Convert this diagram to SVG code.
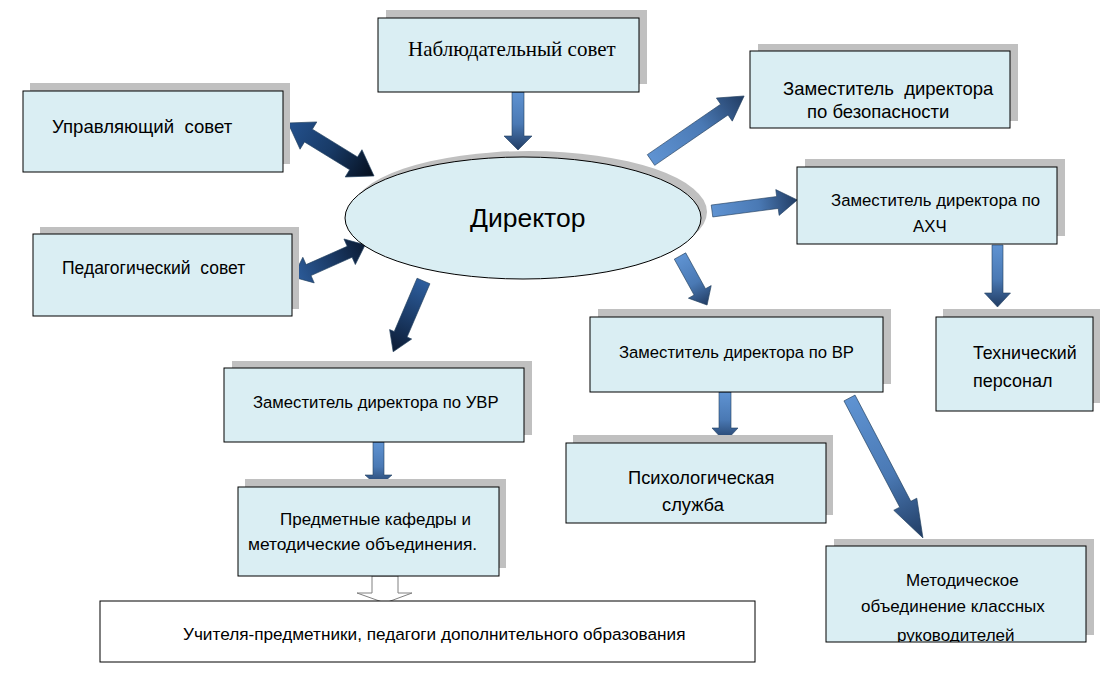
<svg xmlns="http://www.w3.org/2000/svg" width="1120" height="676" viewBox="0 0 1120 676">
<style>
.box{fill:#daeef3;stroke:#000;stroke-width:1}
.sh{fill:#c0c0c0}
.t{font-family:"Liberation Sans",Arial,sans-serif;fill:#000}
.ts{font-family:"Liberation Serif","Times New Roman",serif;fill:#000}
.al{stroke:#23405f;stroke-width:0.6}
</style>
<defs>
<linearGradient id="gL" x1="0" y1="0" x2="1" y2="0">
<stop offset="0" stop-color="#5f93d2"/><stop offset="0.55" stop-color="#4a79b4"/><stop offset="1" stop-color="#213c63"/>
</linearGradient>
<linearGradient id="gD" x1="0" y1="0" x2="1" y2="0">
<stop offset="0" stop-color="#2d5e9e"/><stop offset="1" stop-color="#0b1b34"/>
</linearGradient>
<linearGradient id="gDD" x1="0" y1="0" x2="1" y2="0">
<stop offset="0" stop-color="#24528f"/><stop offset="0.5" stop-color="#183a66"/><stop offset="1" stop-color="#050e1c"/>
</linearGradient>
<clipPath id="cm"><rect x="826" y="546" width="260" height="96"/></clipPath>
</defs>

<g id="connectors">
<path class="al" fill="url(#gL)" transform="translate(518,92) rotate(90)" d="M0,-6 L44,-6 L44,-14 L58,0 L44,14 L44,6 L0,6 Z"/>
<path class="al" fill="url(#gL)" transform="translate(378.5,442) rotate(90)" d="M0,-5.5 L33,-5.5 L33,-13.5 L45,0 L33,13.5 L33,5.5 L0,5.5 Z"/>
<path class="al" fill="url(#gL)" transform="translate(725,392) rotate(90)" d="M0,-6 L36,-6 L36,-13 L50,0 L36,13 L36,6 L0,6 Z"/>
<path class="al" fill="url(#gL)" transform="translate(997.5,245) rotate(90)" d="M0,-5.5 L48,-5.5 L48,-13 L62,0 L48,13 L48,5.5 L0,5.5 Z"/>
<path class="al" fill="url(#gL)" transform="translate(651,160) rotate(-34.5)" d="M0,-6.5 L89,-6.5 L89,-14 L113,0 L89,14 L89,6.5 L0,6.5 Z"/>
<path class="al" fill="url(#gL)" transform="translate(712,211) rotate(-7.4)" d="M0,-6 L66,-6 L66,-13 L86,0 L66,13 L66,6 L0,6 Z"/>
<path class="al" fill="url(#gL)" transform="translate(680,256) rotate(61.1)" d="M0,-6.5 L41,-6.5 L41,-13 L56,0 L41,13 L41,6.5 L0,6.5 Z"/>
<path class="al" fill="url(#gL)" transform="translate(849.5,398) rotate(62.3)" d="M0,-6.25 L120,-6.25 L120,-13 L158,0 L120,13 L120,6.25 L0,6.25 Z"/>
<path class="al" fill="url(#gD)" transform="translate(423.5,281) rotate(113.2)" d="M0,-7 L58,-7 L58,-12 L77,0 L58,12 L58,7 L0,7 Z"/>
<path class="al" fill="url(#gDD)" transform="translate(288,123) rotate(31.6)" d="M0,0 L24,-16 L24,-7.5 L77,-7.5 L77,-16 L101,0 L77,16 L77,7.5 L24,7.5 L24,16 Z"/>
<path class="al" fill="url(#gD)" transform="translate(293,277) rotate(-24)" d="M0,0 L17,-14 L17,-6 L62,-6 L62,-14 L79,0 L62,14 L62,6 L17,6 L17,14 Z"/>
<polygon points="372,576 398,576 398,593 412,593 385,603 357,593 372,593" fill="#fff" stroke="#808080" stroke-width="1"/>
</g>

<g id="n-nabl">
<rect class="sh" x="386" y="10" width="261" height="74"/>
<rect class="box" x="378" y="18" width="261" height="74"/>
<text class="ts" x="408" y="56" font-size="21">Наблюдательный совет</text>
</g>

<g id="n-upr">
<rect class="sh" x="30" y="83" width="260" height="81"/>
<rect class="box" x="23" y="91" width="260" height="81"/>
<text class="t" x="52" y="133" font-size="18.6" xml:space="preserve">Управляющий  совет</text>
</g>

<g id="n-bez">
<rect class="sh" x="758" y="44" width="260" height="77"/>
<rect class="box" x="750" y="51" width="260" height="77"/>
<text class="t" x="783" y="95" font-size="18.5" xml:space="preserve">Заместитель  директора</text>
<text class="t" x="807" y="118" font-size="18.5">по безопасности</text>
</g>

<g id="n-ahch">
<rect class="sh" x="805" y="159" width="260" height="77"/>
<rect class="box" x="797" y="167" width="260" height="77"/>
<text class="t" x="831" y="206" font-size="16.8">Заместитель директора по</text>
<text class="t" x="913" y="232" font-size="16.8">АХЧ</text>
</g>

<g id="n-ped">
<rect class="sh" x="40" y="227" width="259" height="82"/>
<rect class="box" x="33" y="234" width="259" height="82"/>
<text class="t" x="62" y="274" font-size="17.5" xml:space="preserve">Педагогический  совет</text>
</g>

<g id="n-dir">
<ellipse cx="529" cy="212" rx="178" ry="61" fill="#c0c0c0"/>
<ellipse cx="523" cy="218" rx="178" ry="61" fill="#daeef3" stroke="#000" stroke-width="1"/>
<text class="t" x="470" y="227" font-size="26.5">Директор</text>
</g>

<g id="n-uvr">
<rect class="sh" x="232" y="361" width="300" height="74"/>
<rect class="box" x="224" y="368" width="300" height="74"/>
<text class="t" x="253" y="408" font-size="16.7">Заместитель директора по УВР</text>
</g>

<g id="n-pred">
<rect class="sh" x="245" y="479" width="261" height="89"/>
<rect class="box" x="238" y="487" width="261" height="89"/>
<text class="t" x="280" y="525" font-size="17">Предметные кафедры и</text>
<text class="t" x="248" y="550" font-size="17.4">методические объединения.</text>
</g>

<g id="n-uch">
<rect x="100" y="601" width="655" height="61" fill="#fff" stroke="#000" stroke-width="1"/>
<text class="t" x="183" y="640" font-size="17.2">Учителя-предметники, педагоги дополнительного образования</text>
</g>

<g id="n-vr">
<rect class="sh" x="598" y="309" width="293" height="75"/>
<rect class="box" x="590" y="317" width="293" height="75"/>
<text class="t" x="619" y="358" font-size="16.7">Заместитель директора по ВР</text>
</g>

<g id="n-psy">
<rect class="sh" x="573" y="435" width="260" height="80"/>
<rect class="box" x="566" y="443" width="260" height="80"/>
<text class="t" x="628" y="484" font-size="18.3">Психологическая</text>
<text class="t" x="662" y="511" font-size="18.3">служба</text>
</g>

<g id="n-tech">
<rect class="sh" x="943" y="309" width="157" height="94"/>
<rect class="box" x="936" y="317" width="157" height="94"/>
<text class="t" x="973" y="359" font-size="17.8">Технический</text>
<text class="t" x="973" y="387" font-size="18">персонал</text>
</g>

<g id="n-met">
<rect class="sh" x="834" y="539" width="260" height="96"/>
<rect x="826" y="546" width="260" height="96" fill="#daeef3"/>
<g clip-path="url(#cm)">
<text class="t" x="906" y="586" font-size="17">Методическое</text>
<text class="t" x="861" y="612" font-size="17">объединение классных</text>
<text class="t" x="897" y="641" font-size="17">руководителей</text>
</g>
<rect x="826" y="546" width="260" height="96" fill="none" stroke="#000" stroke-width="1"/>
</g>
</svg>
